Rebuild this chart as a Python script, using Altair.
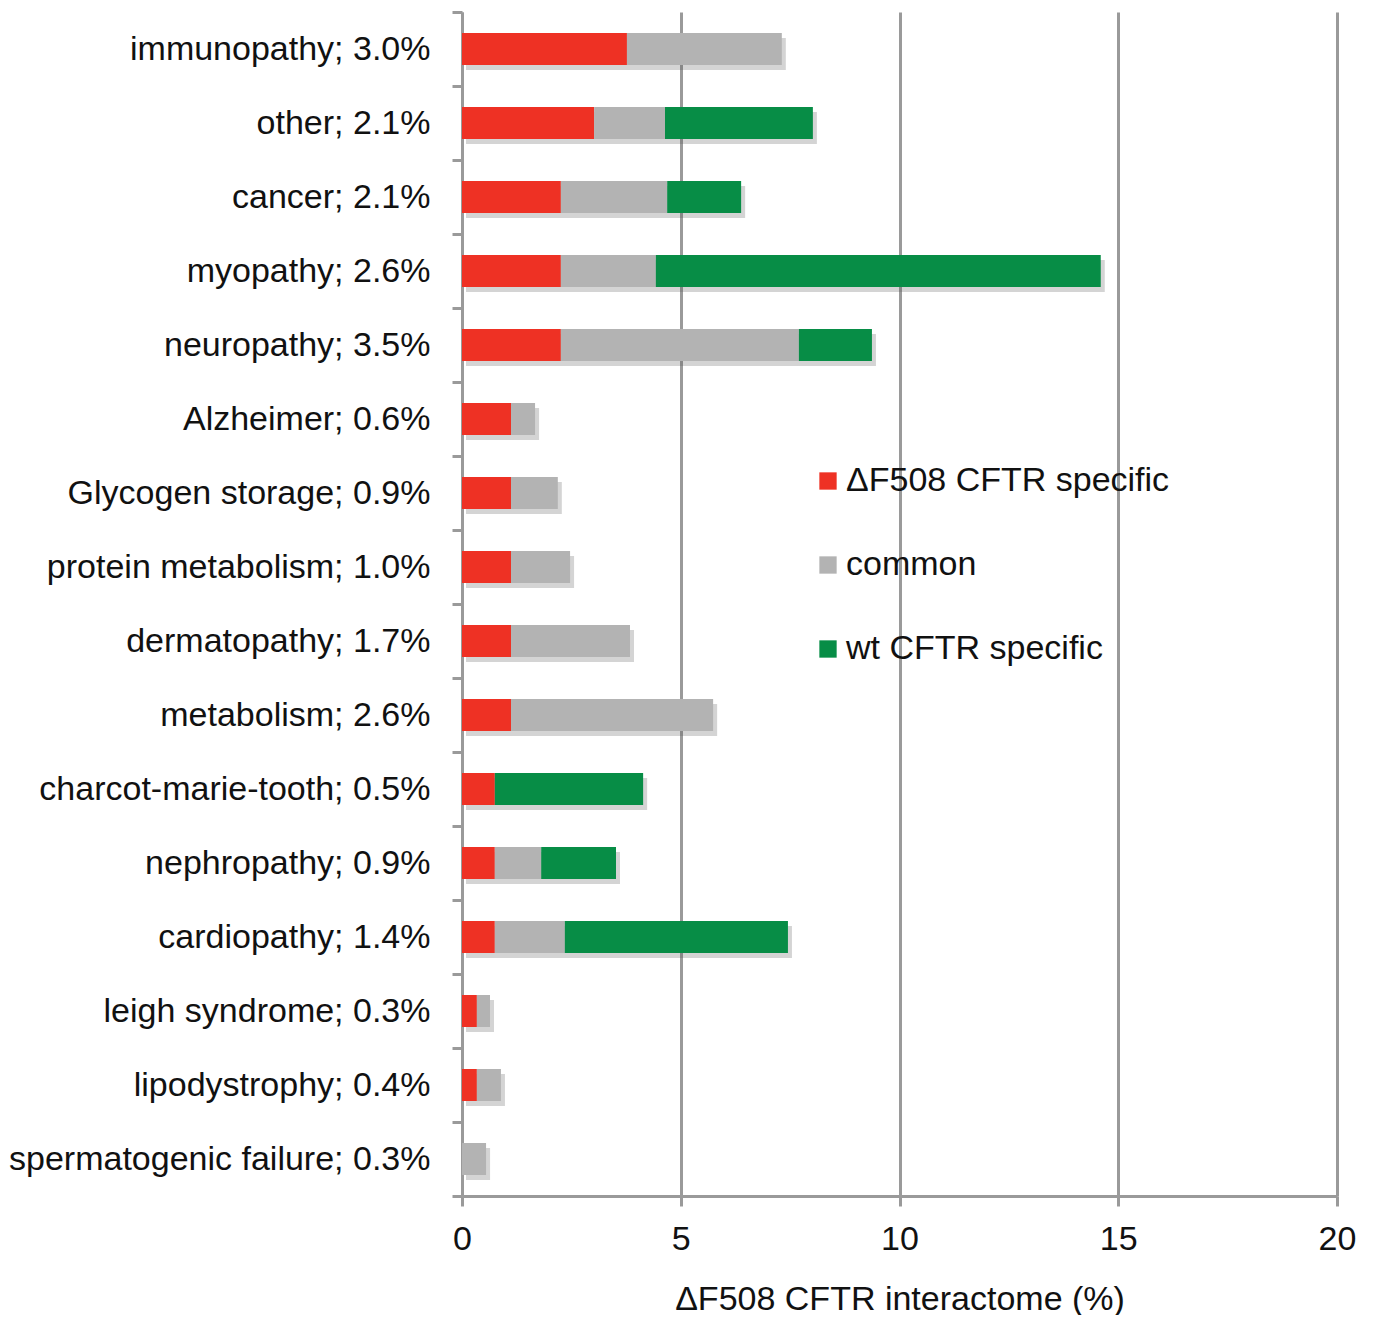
import altair as alt
import pandas as pd

categories = [
    "immunopathy; 3.0%", "other; 2.1%", "cancer; 2.1%", "myopathy; 2.6%",
    "neuropathy; 3.5%", "Alzheimer; 0.6%", "Glycogen storage; 0.9%",
    "protein metabolism; 1.0%", "dermatopathy; 1.7%", "metabolism; 2.6%",
    "charcot-marie-tooth; 0.5%", "nephropathy; 0.9%", "cardiopathy; 1.4%",
    "leigh syndrome; 0.3%", "lipodystrophy; 0.4%", "spermatogenic failure; 0.3%",
]
df508_specific = [3.77, 3.02, 2.26, 2.26, 2.26, 1.12, 1.12, 1.12, 1.12, 1.12,
                  0.75, 0.75, 0.75, 0.34, 0.34, 0.0]
common = [3.54, 1.62, 2.43, 2.17, 5.44, 0.55, 1.07, 1.35, 2.72, 4.62,
          0.0, 1.06, 1.60, 0.30, 0.55, 0.55]
wt_specific = [0.0, 3.38, 1.69, 10.17, 1.67, 0.0, 0.0, 0.0, 0.0, 0.0,
               3.39, 1.71, 5.10, 0.0, 0.0, 0.0]
x_ticks = [0, 5, 10, 15, 20]

series_names = ["\u0394F508 CFTR specific", "common", "wt CFTR specific"]
series_colors = ["#EE3124", "#B3B3B3", "#078D46"]

rows = []
for i, c in enumerate(categories):
    for k, vals in enumerate([df508_specific, common, wt_specific]):
        rows.append({"category": c, "series": series_names[k], "order": k, "value": vals[i]})
df = pd.DataFrame(rows)
totals = pd.DataFrame({"category": categories,
                       "total": [a + b + c for a, b, c in zip(df508_specific, common, wt_specific)]})

FONT = "Liberation Sans"
AX = "#9A9A9A"
FS = 34

yenc = alt.Y("category:N", sort=categories, title=None,
             scale=alt.Scale(paddingInner=0, paddingOuter=0),
             axis=alt.Axis(tickBand="extent", domainColor=AX, domainWidth=3,
                           tickColor=AX, tickWidth=3, tickSize=10,
                           labelFontSize=FS, labelFont=FONT, labelColor="#111",
                           labelPadding=22, grid=False, labelLimit=700))
xscale = alt.Scale(domain=[0, 20], nice=False)
xaxis = alt.Axis(values=x_ticks, grid=True, gridColor=AX, gridWidth=3,
                 domainColor=AX, domainWidth=3, tickColor=AX, tickWidth=3,
                 tickSize=10, labelFontSize=FS, labelFont=FONT, labelColor="#111",
                 labelPadding=16, labelFlush=False,
                 titleFontSize=FS, titleFont=FONT, titleFontWeight="normal",
                 titleColor="#111", titlePadding=26)
xtitle = "\u0394F508 CFTR interactome (%)"

shadow = alt.Chart(totals).mark_bar(color="#555", opacity=0.25, xOffset=4, yOffset=5,
                                    height=32).encode(
    x=alt.X("total:Q", scale=xscale, title=xtitle, axis=xaxis),
    y=yenc,
)

bars = alt.Chart(df).mark_bar(height=32).encode(
    x=alt.X("value:Q", stack="zero", scale=xscale, title=xtitle, axis=xaxis),
    y=yenc,
    color=alt.Color("series:N",
                    scale=alt.Scale(domain=series_names, range=series_colors),
                    legend=alt.Legend(title=None, orient="none", legendX=349, legendY=452,
                                      symbolType="square", symbolSize=300,
                                      symbolStrokeWidth=0, labelFontSize=FS,
                                      labelFont=FONT, labelColor="#111",
                                      labelOffset=1, rowPadding=50, labelLimit=700)),
    order=alt.Order("order:Q"),
)

chart = alt.layer(shadow, bars).properties(
    width=875, height=1184,
    autosize=alt.AutoSizeParams(type="none"),
    padding={"left": 454, "top": 4, "right": 20, "bottom": 119},
).configure_view(stroke=None).configure_axis(gridCap="butt")

chart.save("out.html", embed_options={"renderer": "svg", "actions": False})
